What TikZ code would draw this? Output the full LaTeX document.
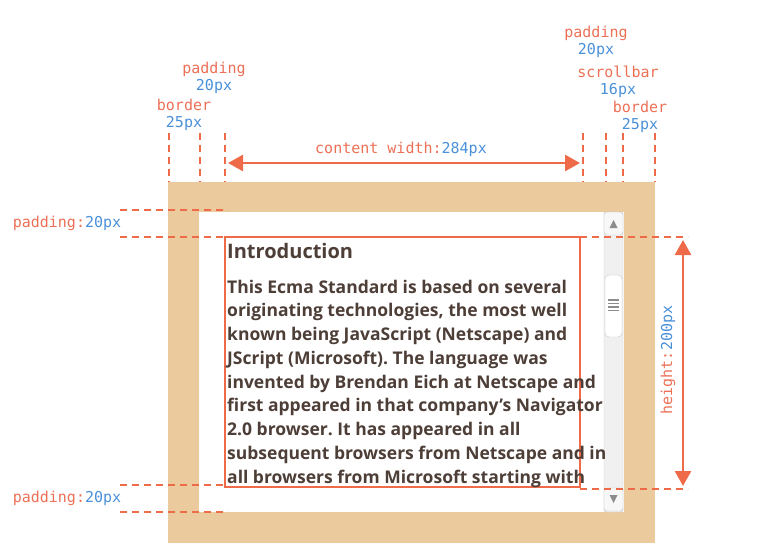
\documentclass[tikz,border=0pt]{standalone}
\usepackage{fontspec}
\setmainfont{Open Sans}
\setmonofont{DejaVu Sans Mono}
\usepackage{tikz}
\usetikzlibrary{arrows.meta,positioning}
\usepackage{xcolor}
\definecolor{mdorange}{RGB}{238,106,72}
\definecolor{mdsalmon}{RGB}{236,112,86}
\definecolor{mdblue}{RGB}{74,144,217}
\definecolor{mdtan}{RGB}{235,202,157}
\definecolor{mdtext}{RGB}{77,62,55}
\tikzstyle{dim} = [line width=2pt,dash pattern=on 7pt off 5pt,color=mdorange]
\tikzstyle{arrow} = [line width=2.5pt,{Triangle[length=15pt,width=16pt]}-{Triangle[length=15pt,width=16pt]},color=mdorange]
\tikzstyle{lbl} = [font=\ttfamily\fontsize{15}{17}\selectfont,inner sep=0pt,align=center]
\tikzstyle{body} = [font=\bfseries\fontsize{17.5}{21}\selectfont,text=mdtext,inner sep=0pt]
\newcommand{\val}[1]{\textcolor{mdblue}{#1}}
\frenchspacing

\begin{document}
\begin{tikzpicture}[x=1pt,y=-1pt]
\useasboundingbox (0,0) rectangle (781,559);
% box with border, padding and scrollbar
\fill[mdtan] (168,182) rectangle (655,543);
\fill[white] (199,212) rectangle (624,512);
\draw[line width=2pt,mdorange] (225,237) rectangle (580,487);

% scrollbar
\draw[fill=black!6,draw=black!20,rounded corners=2pt] (604,212) rectangle (623,512);
\draw[fill=black!3,draw=black!22,rounded corners=3pt] (604,212) rectangle (623,235);
\fill[black!45] (609.5,228) -- (617.5,228) -- (613.5,220) -- cycle;
\draw[fill=white,draw=black!22,rounded corners=4pt] (605,275) rectangle (622,337);
\foreach \k in {0,1,2,3}
  \draw[black!45,line width=1.6pt] (608,300+3.5*\k) -- (619,300+3.5*\k);
\draw[fill=black!3,draw=black!22,rounded corners=3pt] (604,488) rectangle (623,511);
\fill[black!45] (609.5,495) -- (617.5,495) -- (613.5,503) -- cycle;

% content text
\node[body,font=\bfseries\fontsize{20}{24}\selectfont,anchor=base west] (head) at (227,258) {Introduction};
\foreach \ln [count=\i] in {
  This Ecma Standard is based on several,
  {originating technologies, the most well},
  known being JavaScript (Netscape) and,
  JScript (Microsoft). The language was,
  invented by Brendan Eich at Netscape and,
  first appeared in that company’s Navigator,
  2.0 browser. It has appeared in all,
  subsequent browsers from Netscape and in,
  all browsers from Microsoft starting with}
  \node[body,anchor=base west] (line\i) at (227,293+23.75*\i-23.75) {\ln};

% top dimension lines
\foreach \xx in {169,200,225,583,606,623,655}
  \draw[dim] (\xx,133) -- (\xx,182);
\coordinate (cwL) at (228,163);
\coordinate (cwR) at (580,163);
\draw[arrow] (cwL) -- (cwR);
\node[lbl,text=mdsalmon] (cw) at (401,149) {content width:\val{284px}};
\node[lbl,text=mdsalmon] (padL) at (214,78) {padding\\\val{20px}};
\node[lbl,text=mdsalmon] (borL) at (184,115) {border\\\val{25px}};
\node[lbl,text=mdsalmon] (padR) at (596,42) {padding\\\val{20px}};
\node[lbl,text=mdsalmon] (scr) at (618,82) {scrollbar\\\val{16px}};
\node[lbl,text=mdsalmon] (borR) at (640,117) {border\\\val{25px}};

% left padding marks
\draw[dim] (120,210) -- (228,210);
\draw[dim] (120,237) -- (225,237);
\node[lbl,text=mdsalmon] (padT) at (67,223) {padding:\val{20px}};
\draw[dim] (120,485) -- (225,485);
\draw[dim] (120,512) -- (228,512);
\node[lbl,text=mdsalmon] (padB) at (67,498) {padding:\val{20px}};

% height
\draw[dim] (580,237) -- (688,237);
\draw[dim] (580,489) -- (688,489);
\coordinate (hT) at (683,240);
\coordinate (hB) at (683,486);
\draw[arrow] (hT) -- (hB);
\node[lbl,text=mdsalmon,rotate=90] (hgt) at (668,360) {height:\val{200px}};
\end{tikzpicture}
\end{document}
